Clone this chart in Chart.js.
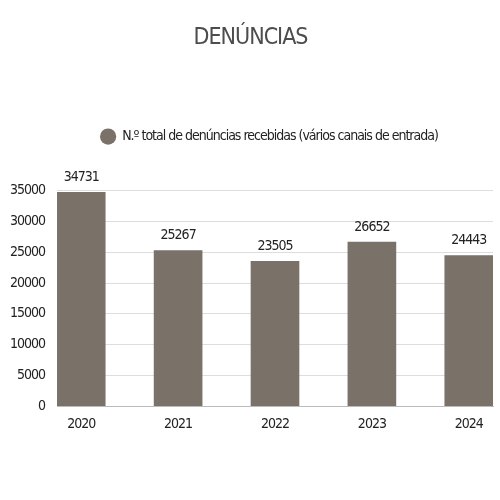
<!DOCTYPE html>
<html><head><meta charset="utf-8">
<script src="https://cdn.jsdelivr.net/npm/chart.js@4/dist/chart.umd.min.js"></script>
<style>html,body{margin:0;padding:0;background:#fff}#wrap{width:500px;height:500px}</style>
</head><body><div id="wrap"><canvas id="c"></canvas></div>
<script>
const years = [2020, 2021, 2022, 2023, 2024];
const totals = [34731, 25267, 23505, 26652, 24443];
const seriesName = 'N.º total de denúncias recebidas (vários canais de entrada)';
const chartTitle = 'DENÚNCIAS';
const yTicks = [0, 5000, 10000, 15000, 20000, 25000, 30000, 35000];

const FONT = "'DejaVu Sans Condensed', 'DejaVu Sans', sans-serif";
const barColor = '#7a7168';
const SPACING = '-1px';

const valueLabels = {
  id: 'valueLabels',
  afterDatasetsDraw(chart) {
    const ctx = chart.ctx;
    const meta = chart.getDatasetMeta(0);
    ctx.save();
    ctx.font = "condensed 14px " + FONT;
    ctx.fillStyle = '#222';
    ctx.textAlign = 'center';
    ctx.textBaseline = 'bottom';
    meta.data.forEach((el, i) => {
      ctx.fillText(String(totals[i]), el.x, el.y - 8);
    });
    ctx.restore();
  }
};

const narrowText = {
  id: 'narrowText',
  beforeInit(chart) {
    const lg = chart.legend;
    if (lg) {
      const origFit = lg.fit;
      lg.fit = function () { origFit.call(this); this.height += 37; };
      const origDraw = lg.draw;
      lg.draw = function (a) { const c = this.ctx; c.save(); c.translate(19, 0); origDraw.call(this, a); c.restore(); };
    }
  },
  beforeUpdate(chart) { chart.ctx.letterSpacing = SPACING; },
  beforeDraw(chart) { chart.ctx.letterSpacing = SPACING; }
};

new Chart(document.getElementById('c'), {
  type: 'bar',
  data: {
    datasets: [{
      label: seriesName,
      data: years.map((y, i) => ({x: y, y: totals[i]})),
      backgroundColor: barColor,
      borderWidth: 0,
      barThickness: 48
    }]
  },
  options: {
    responsive: true,
    maintainAspectRatio: false,
    animation: false,
    devicePixelRatio: 1,
    layout: {padding: {left: 8, right: 7, top: 0, bottom: 57}},
    plugins: {
      title: {
        display: true,
        text: chartTitle,
        color: '#4d4d4d',
        font: {family: FONT, size: 23, weight: 'condensed'},
        padding: {top: 24, bottom: 68}
      },
      legend: {
        display: true,
        labels: {
          usePointStyle: true,
          pointStyle: 'circle',
          boxWidth: 16,
          boxHeight: 11.5,
          color: '#222',
          font: {family: FONT, size: 14, weight: 'condensed'},
          padding: 10
        }
      },
      tooltip: {enabled: false}
    },
    scales: {
      x: {
        type: 'linear',
        min: 2019.75,
        max: 2024.25,
        offset: false,
        afterBuildTicks(scale) { scale.ticks = years.map(v => ({value: v})); },
        grid: {display: false, drawTicks: false},
        border: {display: true, color: '#bbb', width: 1},
        ticks: {
          color: '#222',
          font: {family: FONT, size: 14, weight: 'condensed'},
          padding: 10,
          callback: v => String(v)
        }
      },
      y: {
        min: 0,
        max: 35000,
        afterBuildTicks(scale) { scale.ticks = yTicks.map(v => ({value: v})); },
        afterFit(scale) { scale.width = 49; },
        grid: {color: '#ddd', drawTicks: false, lineWidth: 1},
        border: {display: false},
        ticks: {
          color: '#222',
          font: {family: FONT, size: 14, weight: 'condensed'},
          padding: 12,
          callback: v => String(v)
        }
      }
    }
  },
  plugins: [narrowText, valueLabels]
});
</script></body></html>
